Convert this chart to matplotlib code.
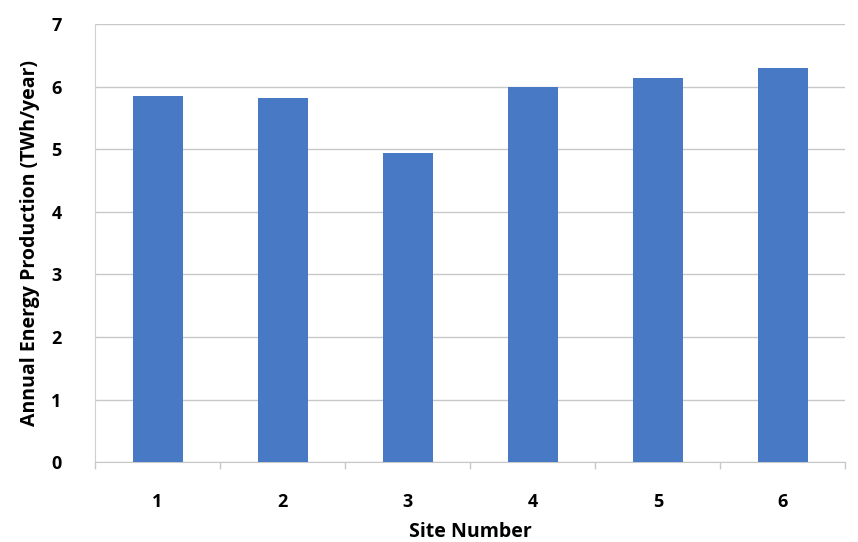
import matplotlib
matplotlib.use("Agg")
import matplotlib.pyplot as plt

sites = ["1", "2", "3", "4", "5", "6"]
energy = [5.85, 5.83, 4.94, 6.0, 6.14, 6.3]
yticks = [0, 1, 2, 3, 4, 5, 6, 7]

plt.rcParams['font.family'] = ['Open Sans', 'DejaVu Sans']

fig = plt.figure(figsize=(8.58, 5.42), dpi=100)
ax = fig.add_axes([0.1107, 0.1476, 0.8747, 0.8072])

x = list(range(1, len(sites) + 1))
ax.bar(x, energy, width=0.4, color="#4879C4", zorder=3)

ax.set_xlim(0.5, 6.5)
ax.set_ylim(0, 7)
ax.set_yticks(yticks)
ax.set_yticklabels([str(t) for t in yticks], fontsize=13, fontweight='bold')
ax.set_xticks(x)
ax.set_xticklabels(sites, fontsize=13, fontweight='bold')
ax.tick_params(axis='y', length=0, pad=24)
ax.tick_params(axis='x', length=0, pad=22)

# minor ticks between categories
ax.set_xticks([i + 0.5 for i in range(0, 7)], minor=True)
ax.tick_params(axis='x', which='minor', length=5, color='#c8c8c8', width=1)

ax.grid(axis='y', color='#c8c8c8', linewidth=1, zorder=0)
for s in ['top', 'right']:
    ax.spines[s].set_visible(False)
ax.spines['left'].set_color('#d0d0d0')
ax.spines['bottom'].set_color('#c8c8c8')

ax.set_ylabel("Annual Energy Production (TWh/year)", fontsize=14, fontweight='bold', labelpad=8)
ax.set_xlabel("Site Number", fontsize=14, fontweight='bold', labelpad=8)

fig.savefig("out.png", dpi=100)
